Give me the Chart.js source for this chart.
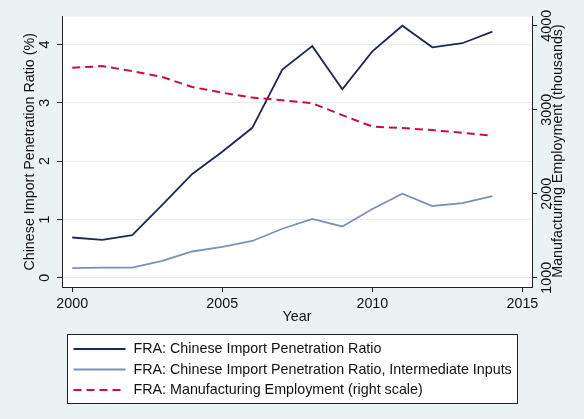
<!DOCTYPE html>
<html><head><meta charset="utf-8">
<script src="https://cdn.jsdelivr.net/npm/chart.js@4"></script>
<style>html,body{margin:0;padding:0;background:#eaf2f3;}canvas{display:block}</style>
</head><body>
<canvas id="c" width="584" height="419"></canvas>
<script>
const years = [2000,2001,2002,2003,2004,2005,2006,2007,2008,2009,2010,2011,2012,2013,2014];
const importRatio = [0.69,0.65,0.73,1.25,1.78,2.16,2.57,3.57,3.97,3.23,3.88,4.32,3.95,4.02,4.22];
const importRatioInter = [0.165,0.175,0.175,0.29,0.45,0.53,0.63,0.84,1.01,0.88,1.18,1.44,1.23,1.28,1.40];
const employment = [3500,3520,3461,3390,3271,3204,3145,3114,3078,2936,2801,2782,2758,2726,2691];
const leftTicks = [0,1,2,3,4];
const rightTicks = [1000,2000,3000,4000];
const xTicks = [2000,2005,2010,2015];
const seriesLabels = [
  'FRA: Chinese Import Penetration Ratio',
  'FRA: Chinese Import Penetration Ratio, Intermediate Inputs',
  'FRA: Manufacturing Employment (right scale)'
];
const leftTitle = 'Chinese Import Penetration Ratio (%)';
const rightTitle = 'Manufacturing Employment (thousands)';
const xTitle = 'Year';

const FONT = "'Liberation Sans', Arial, Helvetica, sans-serif";
const FS = 14.3;
Chart.defaults.font.family = FONT;
Chart.defaults.font.size = FS;
Chart.defaults.color = '#111';

const pts = (arr) => years.map((y,i)=>({x:y,y:arr[i]}));

const bgPlugin = {
  id:'bg',
  beforeDraw(chart){
    const {ctx, chartArea:a} = chart;
    ctx.save();
    ctx.fillStyle = '#eaf2f3';
    ctx.fillRect(0,0,chart.width,chart.height);
    ctx.fillStyle = '#ffffff';
    ctx.fillRect(a.left,a.top,a.right-a.left,a.bottom-a.top);
    ctx.restore();
  }
};
const extraPlugin = {
  id:'extra',
  afterDraw(chart){
    const ctx = chart.ctx;
    ctx.save();
    ctx.font = FS + 'px ' + FONT;
    ctx.fillStyle = '#111';
    ctx.textAlign = 'center';
    ctx.textBaseline = 'middle';
    ctx.translate(558.5, 151);
    ctx.rotate(-Math.PI/2);
    ctx.fillText(rightTitle, 0, 0);
    ctx.restore();
    ctx.save();
    const bx = 67.5, by = 334.5, bw = 450, bh = 69;
    ctx.fillStyle = '#fff';
    ctx.fillRect(bx,by,bw,bh);
    ctx.strokeStyle = '#222';
    ctx.lineWidth = 1;
    ctx.strokeRect(bx,by,bw,bh);
    const rows = [349, 369.5, 390];
    chart.data.datasets.forEach((ds,i)=>{
      ctx.beginPath();
      ctx.strokeStyle = ds.borderColor;
      ctx.lineWidth = ds.borderWidth;
      ctx.setLineDash(ds.borderDash || []);
      ctx.moveTo(73.5, rows[i]);
      ctx.lineTo(125.5, rows[i]);
      ctx.stroke();
      ctx.setLineDash([]);
      ctx.fillStyle = '#111';
      ctx.font = FS + 'px ' + FONT;
      ctx.textAlign = 'left';
      ctx.textBaseline = 'middle';
      ctx.fillText(ds.label, 133.5, rows[i]+0.5);
    });
    ctx.restore();
  }
};

new Chart(document.getElementById('c'), {
  type:'line',
  data:{
    datasets:[
      {label:seriesLabels[0], data:pts(importRatio), yAxisID:'y', borderColor:'#1c2a52', borderWidth:1.8, pointRadius:0, tension:0, order:2},
      {label:seriesLabels[1], data:pts(importRatioInter), yAxisID:'y', borderColor:'#7b93b2', borderWidth:1.8, pointRadius:0, tension:0, order:1},
      {label:seriesLabels[2], data:pts(employment), yAxisID:'y2', borderColor:'#c8103c', borderWidth:2, borderDash:[8,5], pointRadius:0, tension:0, order:0}
    ]
  },
  options:{
    responsive:false,
    animation:false,
    layout:{padding:{top:15,bottom:92,left:0,right:0}},
    plugins:{legend:{display:false}, tooltip:{enabled:false}},
    scales:{
      x:{
        type:'linear', min:1999.66, max:2015.32,
        afterBuildTicks(s){ s.ticks = xTicks.map(v=>({value:v})); },
        afterFit(s){ s.height = 40; },
        ticks:{callback:v=>String(v), padding:3.5, autoSkip:false, maxRotation:0},
        grid:{drawOnChartArea:false, tickLength:5, tickColor:'#222', color:'#222'},
        border:{display:true, color:'#222', width:1},
        title:{display:true, text:xTitle, padding:{top:0,bottom:1.5}}
      },
      y:{
        type:'linear', position:'left', min:-0.1585, max:4.477,
        afterBuildTicks(s){ s.ticks = leftTicks.map(v=>({value:v})); },
        afterFit(s){ s.width = 62; },
        ticks:{minRotation:90, maxRotation:90, crossAlign:'center', padding:8, autoSkip:false},
        grid:{drawOnChartArea:true, color:'#e4eef0', tickLength:5, tickColor:'#222'},
        border:{display:true, color:'#222', width:1},
        title:{display:true, text:leftTitle, padding:{top:21.9,bottom:0}}
      },
      y2:{
        type:'linear', position:'right', min:889.9, max:4110,
        afterBuildTicks(s){ s.ticks = rightTicks.map(v=>({value:v})); },
        afterFit(s){ s.width = 52; },
        ticks:{minRotation:90, maxRotation:90, crossAlign:'center', padding:-6.2, autoSkip:false, callback:v=>String(v)},
        grid:{drawOnChartArea:false, tickLength:5, tickColor:'#222'},
        border:{display:true, color:'#222', width:1},
        title:{display:false}
      }
    }
  },
  plugins:[bgPlugin, extraPlugin]
});
</script>
</body></html>
